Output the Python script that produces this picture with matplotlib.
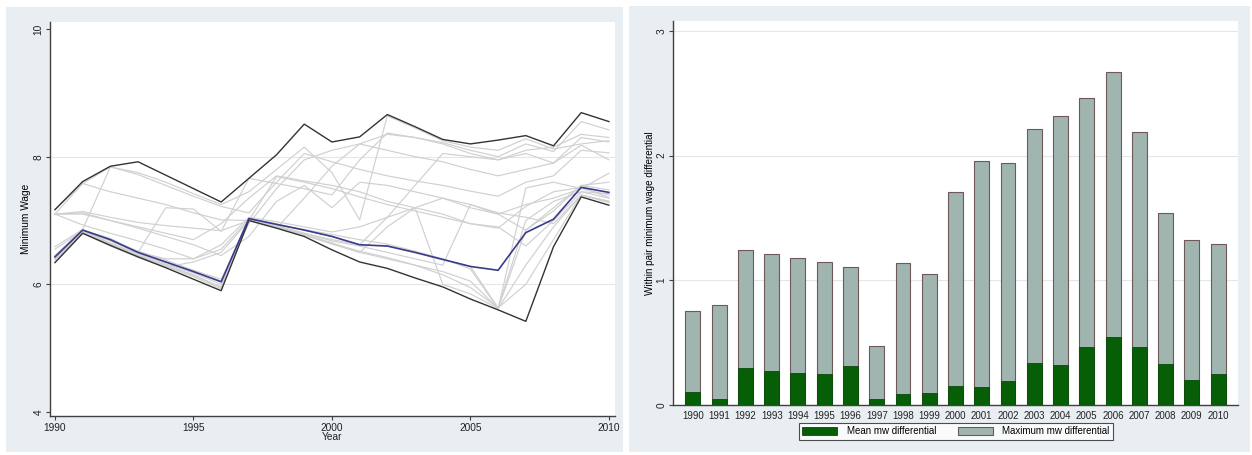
import matplotlib
matplotlib.use("Agg")
import matplotlib.pyplot as plt
from matplotlib.patches import Rectangle, Patch

plt.rcParams['font.family'] = ['Liberation Sans', 'DejaVu Sans']

# --- data -------------------------------------------------------------
years = list(range(1990, 2011))

# real minimum wage, highest and lowest state in the sample
mw_max = [7.17, 7.61, 7.85, 7.92, 7.71, 7.50, 7.29, 7.66, 8.03, 8.51, 8.23,
          8.31, 8.66, 8.47, 8.27, 8.20, 8.26, 8.33, 8.17, 8.69, 8.55]
mw_min = [6.34, 6.80, 6.61, 6.43, 6.26, 6.08, 5.90, 7.00, 6.88, 6.75, 6.54,
          6.35, 6.25, 6.10, 5.96, 5.77, 5.60, 5.42, 6.59, 7.37, 7.24]
# federal minimum wage
mw_federal = [6.43, 6.85, 6.70, 6.50, 6.35, 6.20, 6.04, 7.03, 6.94, 6.85, 6.75,
              6.62, 6.60, 6.50, 6.39, 6.28, 6.22, 6.81, 7.02, 7.52, 7.44]

# individual states
state_01 = [7.10, 7.14, 7.05, 6.97, 6.92, 6.88, 6.84, 7.00, 6.93, 6.86, 6.78,
            6.70, 6.63, 6.52, 6.40, 6.24, 5.62, 6.85, 7.20, 7.55, 7.48]
state_02 = [7.10, 6.93, 6.80, 6.68, 6.55, 6.40, 6.62, 7.05, 6.98, 6.90, 6.82,
            6.90, 7.05, 7.20, 7.35, 7.25, 7.10, 7.25, 7.35, 7.50, 7.40]
state_03 = [6.59, 6.86, 7.84, 7.72, 7.55, 7.38, 7.22, 7.12, 7.60, 8.05, 7.92,
            7.80, 7.70, 7.62, 7.55, 7.46, 7.38, 7.60, 7.70, 8.10, 8.06]
state_04 = [7.10, 7.58, 7.45, 7.35, 7.25, 7.12, 7.01, 7.00, 7.69, 7.60, 7.50,
            7.37, 7.25, 7.15, 7.05, 6.95, 6.88, 7.22, 7.45, 7.52, 7.36]
state_05 = [6.45, 6.85, 6.70, 6.50, 7.20, 7.18, 6.83, 7.66, 7.58, 7.50, 7.40,
            7.95, 8.37, 8.30, 8.22, 8.10, 8.00, 8.20, 8.08, 8.55, 8.42]
state_06 = [7.17, 7.58, 7.84, 7.75, 7.60, 7.42, 7.25, 7.45, 7.80, 8.15, 7.75,
            7.01, 8.64, 8.45, 8.25, 8.15, 8.10, 8.28, 8.12, 8.20, 8.25]
state_07 = [6.35, 6.80, 6.60, 6.42, 6.27, 6.35, 6.50, 7.00, 6.88, 7.35, 7.85,
            8.20, 8.10, 8.00, 7.92, 7.80, 7.70, 7.80, 7.90, 8.30, 8.23]
state_08 = [6.40, 6.82, 6.62, 6.45, 6.30, 6.15, 5.95, 7.01, 6.90, 6.78, 6.65,
            6.50, 6.40, 6.30, 6.20, 6.05, 5.62, 7.51, 7.60, 7.50, 7.74]
state_09 = [6.42, 6.84, 6.65, 6.48, 6.32, 6.18, 6.00, 7.02, 6.92, 6.80, 6.68,
            6.60, 6.50, 6.40, 6.30, 7.25, 7.12, 7.05, 6.95, 7.40, 7.30]
state_10 = [7.10, 7.10, 7.00, 6.90, 6.80, 6.70, 6.95, 7.35, 7.70, 7.62, 7.55,
            7.45, 7.30, 7.20, 7.10, 6.95, 6.90, 6.60, 7.00, 7.45, 7.35]
state_11 = [6.55, 6.84, 6.68, 6.50, 6.40, 6.40, 6.55, 7.02, 6.90, 6.80, 6.70,
            6.62, 7.05, 7.55, 8.05, 8.00, 7.95, 8.05, 7.90, 8.18, 7.95]
state_12 = [6.38, 6.81, 6.63, 6.44, 6.28, 6.12, 5.93, 7.00, 6.89, 6.77, 6.63,
            6.50, 6.90, 7.20, 6.00, 5.85, 5.62, 6.30, 6.90, 7.40, 7.28]
state_13 = [6.40, 6.82, 6.64, 6.46, 6.30, 6.14, 5.96, 7.01, 6.90, 6.78, 6.64,
            6.52, 6.42, 6.30, 6.15, 5.95, 5.63, 6.00, 6.70, 7.40, 7.30]
state_14 = [6.45, 6.85, 6.70, 6.52, 6.38, 6.22, 6.08, 6.95, 7.50, 7.95, 8.10,
            8.20, 8.35, 8.30, 8.20, 8.05, 7.95, 8.10, 8.15, 8.35, 8.30]
state_15 = [7.10, 7.12, 7.00, 6.88, 6.75, 6.62, 6.45, 6.75, 7.30, 7.55, 7.20,
            7.60, 7.55, 7.45, 7.35, 7.20, 7.10, 6.85, 7.15, 7.55, 7.60]
state_16 = [6.43, 6.85, 6.72, 6.50, 6.35, 6.20, 6.05, 7.03, 6.94, 6.85, 6.75,
            6.62, 6.60, 6.50, 6.39, 6.28, 5.63, 7.00, 7.30, 7.45, 7.42]

states = [state_01, state_02, state_03, state_04, state_05, state_06, state_07,
          state_08, state_09, state_10, state_11, state_12, state_13, state_14,
          state_15, state_16]

# within-pair differentials
bar_labels = [str(y) for y in years]
max_diff = [0.75, 0.80, 1.24, 1.21, 1.18, 1.145, 1.11, 0.47, 1.14, 1.05, 1.71,
            1.96, 1.94, 2.21, 2.32, 2.46, 2.67, 2.19, 1.54, 1.32, 1.295]
mean_diff = [0.107, 0.05, 0.30, 0.275, 0.26, 0.25, 0.315, 0.05, 0.09, 0.10, 0.152,
             0.142, 0.192, 0.334, 0.318, 0.468, 0.543, 0.468, 0.326, 0.20, 0.249]

# --- style ------------------------------------------------------------
BG = '#e8eef1'
AXC = '#404040'
GRID = '#e3e7e9'
GREEN = '#065e06'
GRAYBAR = '#a0b5b0'

W, H = 1252, 455
fig = plt.figure(figsize=(W / 100, H / 100), dpi=100, facecolor='white')


def px_rect(x0, y0, x1, y1):
    # pixel box (top-left origin) -> figure fraction [l, b, w, h]
    return [x0 / W, 1 - y1 / H, (x1 - x0) / W, (y1 - y0) / H]


# graph regions behind both panels
for x0, y0, x1, y1 in [(6, 7, 623, 452), (629, 6, 1250, 452)]:
    l, b, w, h = px_rect(x0, y0, x1, y1)
    fig.patches.append(Rectangle((l, b), w, h, transform=fig.transFigure,
                                 facecolor=BG, edgecolor='none', zorder=-10))


def style_axes(ax):
    for s in ('top', 'right'):
        ax.spines[s].set_visible(False)
    for s in ('left', 'bottom'):
        ax.spines[s].set_color(AXC)
        ax.spines[s].set_linewidth(1.0)
    ax.tick_params(direction='out', length=3, width=0.8, color=AXC,
                   labelsize=7.3, pad=1.8, labelcolor='#222222')


# --- left: minimum wage paths ----------------------------------------
ax1 = fig.add_axes(px_rect(50, 22, 615, 416))
style_axes(ax1)
for yv in (6, 8):
    ax1.axhline(yv, color=GRID, lw=0.8, zorder=1)
for s in states:
    ax1.plot(years, s, color='#d0d0d0', lw=0.85, zorder=2)
ax1.plot(years, mw_max, color='#333333', lw=1.0, zorder=3)
ax1.plot(years, mw_min, color='#333333', lw=1.0, zorder=3)
ax1.plot(years, mw_federal, color='#3a3a8c', lw=1.2, zorder=4)

ax1.set_xlim(1989.82, 2010.22)
ax1.set_ylim(3.937, 10.11)
ax1.set_xticks([1990, 1995, 2000, 2005, 2010])
ax1.set_yticks([4, 6, 8, 10])
ax1.set_yticklabels(['4', '6', '8', '10'], rotation=90, va='center')
ax1.set_ylabel('Minimum Wage', fontsize=7.3)
ax1.yaxis.set_label_coords(-0.0345, 0.5)
fig.text(332.5 / W, 1 - 437 / H, 'Year', fontsize=7.3, ha='center', va='center',
         color='#222222')

# --- right: within-pair differentials --------------------------------
ax2 = fig.add_axes(px_rect(673, 21, 1238, 405))
style_axes(ax2)
for yv in (1, 2, 3):
    ax2.axhline(yv, color=GRID, lw=0.8, zorder=1)
pos = list(range(len(bar_labels)))
ax2.bar(pos, max_diff, width=0.57, color=GRAYBAR, edgecolor='#6e5858',
        linewidth=0.8, zorder=2)
ax2.bar(pos, mean_diff, width=0.57, color=GREEN, edgecolor='#0a4a0a',
        linewidth=0.6, zorder=3)
ax2.set_xlim(-0.76, 20.76)
ax2.set_ylim(0, 3.08)
ax2.set_xticks(pos)
ax2.set_xticklabels(bar_labels, fontsize=7)
ax2.tick_params(axis='x', length=0, pad=4)
ax2.set_yticks([0, 1, 2, 3])
ax2.set_yticklabels(['0', '1', '2', '3'], rotation=90, va='center')
ax2.set_ylabel('Within pair minimum wage differential', fontsize=7.1)
ax2.yaxis.set_label_coords(-0.0327, 0.5)

handles = [Patch(facecolor=GREEN, edgecolor='#0a4a0a', lw=0.6),
           Patch(facecolor=GRAYBAR, edgecolor='#6e5858', lw=0.8)]
leg = fig.legend(handles, ['Mean mw differential', 'Maximum mw differential'],
                 loc='center', bbox_to_anchor=(956 / W, 1 - 431.5 / H), ncol=2,
                 fontsize=7, frameon=True, fancybox=False, handlelength=3.6,
                 handleheight=0.8, handletextpad=1.0, columnspacing=2.2,
                 borderpad=0.35, borderaxespad=0)
leg.get_frame().set_edgecolor('#222222')
leg.get_frame().set_linewidth(0.8)

fig.savefig('out.png', dpi=100, facecolor='white')
